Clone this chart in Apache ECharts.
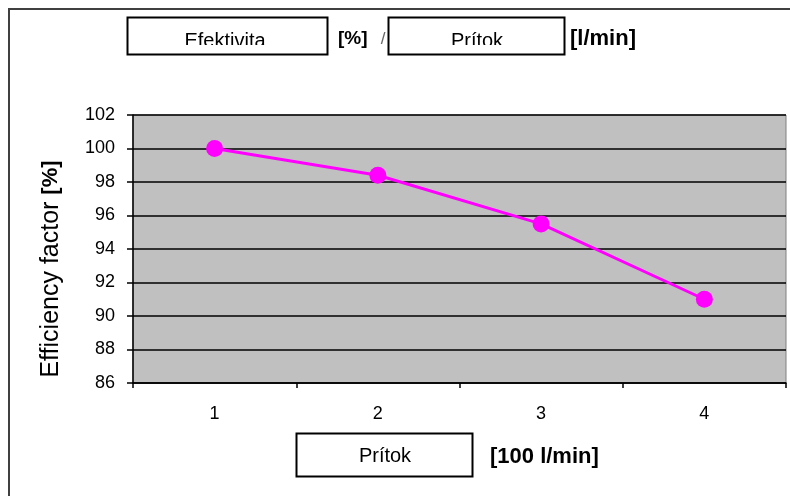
<!DOCTYPE html>
<html>
<head>
<meta charset="utf-8">
<script src="https://cdn.jsdelivr.net/npm/echarts@6/dist/echarts.min.js"></script>
<style>
html,body{margin:0;padding:0;background:#fff;}
#chart{width:790px;height:496px;}
</style>
</head>
<body>
<div id="chart"></div>
<script>
const categories = ['1', '2', '3', '4'];
const efficiency = [100, 98.4, 95.5, 91.0];
const yTicks = [86, 88, 90, 92, 94, 96, 98, 100, 102];

const titleLeft = 'Efektivita';
const titleLeftUnit = '[%]';
const titleRight = 'Prítok';
const titleRightUnit = '[l/min]';
const xName = 'Prítok';
const xUnit = '[100 l/min]';
const yName = 'Efficiency factor';
const yUnit = '[%]';

const chart = echarts.init(document.getElementById('chart'), null, {renderer: 'canvas'});
const F = 'Arial, "Liberation Sans", sans-serif';

const option = {
  animation: false,
  backgroundColor: '#fff',
  grid: {
    left: 133, right: 4, top: 115, bottom: 113,
    show: true, backgroundColor: '#c0c0c0', borderColor: '#808080', borderWidth: 1
  },
  xAxis: {
    type: 'category',
    data: categories,
    boundaryGap: true,
    axisLine: {lineStyle: {color: '#000', width: 1.5}},
    axisTick: {show: true, length: 5, lineStyle: {color: '#000', width: 1.5}},
    axisLabel: {color: '#000', fontFamily: F, fontSize: 18, margin: 22},
    splitLine: {show: false}
  },
  yAxis: {
    type: 'value',
    min: yTicks[0], max: yTicks[yTicks.length - 1], interval: 2,
    axisLine: {show: true, lineStyle: {color: '#000', width: 1.5}},
    axisTick: {show: true, length: 6, lineStyle: {color: '#000', width: 1.5}},
    axisLabel: {color: '#000', fontFamily: F, fontSize: 18, margin: 18},
    splitLine: {show: true, lineStyle: {color: '#000', width: 1.5}}
  },
  series: [{
    type: 'line',
    data: efficiency,
    lineStyle: {color: '#ff00ff', width: 3},
    itemStyle: {color: '#ff00ff'},
    symbol: 'circle',
    symbolSize: 17,
    z: 5
  }],
  graphic: [
    {type: 'rect', shape: {x: 9, y: 9, width: 800, height: 500}, style: {fill: 'none', stroke: '#404040', lineWidth: 2}, silent: true},
    // y axis name
    {type: 'text', x: 51, y: 269, rotation: Math.PI / 2,
      style: {text: '{a|' + yName + ' }{b|' + yUnit + '}', align: 'center', verticalAlign: 'middle',
        rich: {
          a: {font: '25px ' + F, fill: '#000'},
          b: {font: 'bold 22px ' + F, fill: '#000'}
        }}, z: 10},
    // top left box
    {type: 'text', x: 225, y: 41, style: {text: titleLeft, font: '20px ' + F, fill: '#000', align: 'center', verticalAlign: 'middle'}, z: 10},
    {type: 'rect', shape: {x: 128, y: 45, width: 199, height: 9}, style: {fill: '#fff'}, z: 11},
    {type: 'rect', shape: {x: 127.5, y: 17.5, width: 200, height: 37}, style: {fill: 'none', stroke: '#000', lineWidth: 2}, z: 12},
    {type: 'text', x: 338, y: 39, style: {text: titleLeftUnit, font: 'bold 19px ' + F, fill: '#000', align: 'left', verticalAlign: 'middle'}, z: 10},
    {type: 'text', x: 383, y: 39, style: {text: '/', font: '17px ' + F, fill: '#666', align: 'center', verticalAlign: 'middle'}, z: 10},
    // top right box
    {type: 'text', x: 477, y: 41, style: {text: titleRight, font: '20px ' + F, fill: '#000', align: 'center', verticalAlign: 'middle'}, z: 10},
    {type: 'rect', shape: {x: 389, y: 45, width: 175, height: 9}, style: {fill: '#fff'}, z: 11},
    {type: 'rect', shape: {x: 388.5, y: 17.5, width: 176, height: 37}, style: {fill: 'none', stroke: '#000', lineWidth: 2}, z: 12},
    {type: 'text', x: 570, y: 39, style: {text: titleRightUnit, font: 'bold 22px ' + F, fill: '#000', align: 'left', verticalAlign: 'middle'}, z: 10},
    // bottom box
    {type: 'rect', shape: {x: 296.5, y: 433.5, width: 176, height: 43}, style: {fill: '#fff', stroke: '#000', lineWidth: 2}, z: 10},
    {type: 'text', x: 385, y: 456, style: {text: xName, font: '20px ' + F, fill: '#000', align: 'center', verticalAlign: 'middle'}, z: 11},
    {type: 'text', x: 490, y: 457, style: {text: xUnit, font: 'bold 22px ' + F, fill: '#000', align: 'left', verticalAlign: 'middle'}, z: 11}
  ]
};
chart.setOption(option);
</script>
</body>
</html>
